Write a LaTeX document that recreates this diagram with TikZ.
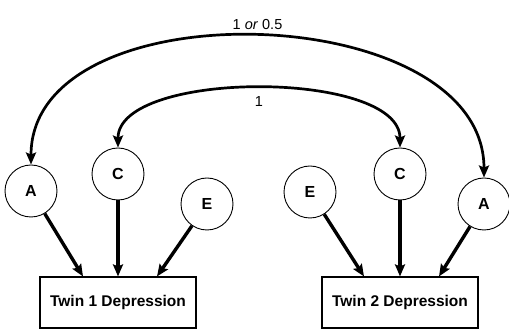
\documentclass[tikz,border=0pt]{standalone}
\usepackage{fontspec}
\setmainfont{Liberation Sans}
\usetikzlibrary{arrows.meta, positioning}
\tikzstyle{latent} = [circle, draw, line width=0.9pt, minimum size=52pt, inner sep=0pt, font=\fontsize{16}{18}\selectfont\bfseries]
\tikzstyle{pheno} = [rectangle, draw, line width=1.1pt, minimum width=156pt, minimum height=51pt, font=\fontsize{15.5}{18}\selectfont\bfseries]
\tikzstyle{loading} = [line width=3.4pt, -{Stealth[length=12pt,width=10pt,inset=2pt]}]
\tikzstyle{corr} = [line width=2.7pt, {Stealth[length=12pt,width=10pt,inset=2pt]}-{Stealth[length=12pt,width=10pt,inset=2pt]}]
\tikzstyle{coef} = [font=\fontsize{14.5}{16}\selectfont]

\begin{document}
\begin{tikzpicture}[x=1pt, y=1pt]
    \useasboundingbox (0,0) rectangle (509,329);

    % twin 1
    \node (A1) [latent] at (31,138) {A};
    \node (C1) [latent] at (118,155) {C};
    \node (E1) [latent] at (207,125) {E};
    \node (T1) [pheno] at (118,26.5) {Twin 1 Depression};

    % twin 2
    \node (E2) [latent] at (310,137) {E};
    \node (C2) [latent] at (400,155) {C};
    \node (A2) [latent] at (484,125) {A};
    \node (T2) [pheno] at (400,26.5) {Twin 2 Depression};

    \draw[loading] (A1) -- ([xshift=-35pt]T1.north);
    \draw[loading] (C1) -- (T1.north);
    \draw[loading] (E1) -- ([xshift=39pt]T1.north);
    \draw[loading] (E2) -- ([xshift=-36pt]T2.north);
    \draw[loading] (C2) -- (T2.north);
    \draw[loading] (A2) -- ([xshift=39pt]T2.north);

    % correlations
    \draw[corr] (A1.north) to[out=90, in=90, looseness=1.01] node[coef, above=2pt] {1 \textit{or} 0.5} (A2.north);
    \draw[corr] (C1.north) to[out=90, in=90, looseness=0.71] node[coef, below=3pt] {1} (C2.north);
\end{tikzpicture}
\end{document}
